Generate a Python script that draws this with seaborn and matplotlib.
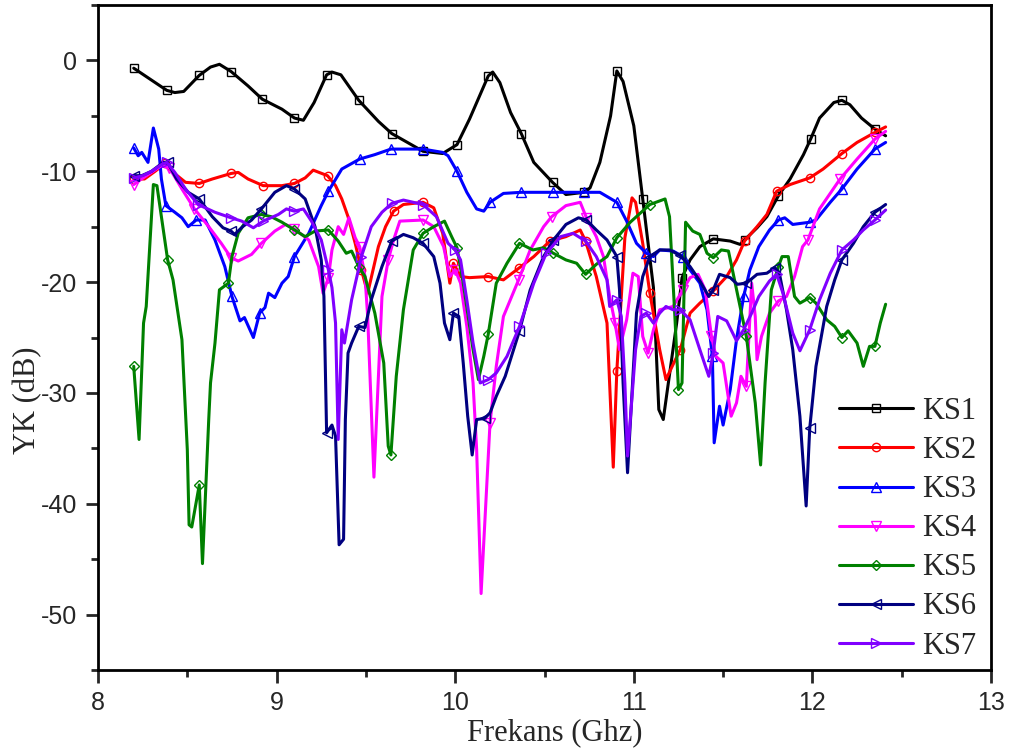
import numpy as np
import matplotlib
matplotlib.use("Agg")
import matplotlib.pyplot as plt
import seaborn as sns
from matplotlib.ticker import MultipleLocator

# ---------------- data ----------------
ks1_x = [8.20, 8.385, 8.43, 8.48, 8.567, 8.63, 8.68, 8.745, 8.84, 8.92, 9.03, 9.10, 9.15, 9.21, 9.28, 9.31, 9.36,
         9.46, 9.57, 9.645, 9.82, 9.93, 10.01, 10.08, 10.185, 10.21, 10.25, 10.31, 10.37, 10.44, 10.545, 10.62,
         10.72, 10.755, 10.81, 10.87, 10.905, 10.94, 11.00, 11.05, 11.11, 11.14, 11.165, 11.24, 11.27, 11.315,
         11.37, 11.445, 11.54, 11.595, 11.62, 11.69, 11.745, 11.81, 11.875, 11.95, 11.99, 12.04, 12.12, 12.165,
         12.21, 12.275, 12.35, 12.41]
ks1_y = [-0.7, -2.7, -2.9, -2.8, -1.35, -0.6, -0.35, -1.0, -2.3, -3.5, -4.4, -5.2, -5.4, -3.8, -1.3, -1.05, -1.3,
         -3.6, -5.5, -6.6, -8.2, -8.4, -7.6, -5.3, -1.4, -1.05, -2.0, -4.7, -6.6, -9.2, -11.0, -12.1,
         -11.9, -11.5, -9.2, -5.0, -0.95, -1.9, -5.9, -12.5, -20.5, -31.5, -32.4, -23.7, -19.6, -18.0,
         -16.8, -16.1, -16.3, -16.6, -16.2, -15.1, -14.1, -12.2, -10.7, -8.5, -7.1, -5.2, -3.8, -3.6,
         -4.0, -5.2, -6.2, -6.8]

ks2_x = [8.20, 8.26, 8.32, 8.375, 8.39, 8.49, 8.567, 8.64, 8.745, 8.785, 8.84, 8.925, 9.03, 9.10, 9.16, 9.205,
         9.285, 9.33, 9.365, 9.40, 9.44, 9.475, 9.51, 9.57, 9.61, 9.655, 9.71, 9.82, 9.88, 9.93, 9.97, 9.99,
         10.03, 10.08, 10.185, 10.27, 10.36, 10.44, 10.53, 10.62, 10.70, 10.73, 10.79, 10.85, 10.885, 10.905,
         10.95, 10.99, 11.01, 11.05, 11.09, 11.145, 11.18, 11.215, 11.26, 11.315, 11.37, 11.445, 11.52, 11.575,
         11.62, 11.69, 11.745, 11.80, 11.875, 11.985, 12.06, 12.165, 12.25, 12.35, 12.41]
ks2_y = [-10.7, -10.7, -10.0, -9.3, -9.7, -11.0, -11.1, -10.7, -10.2, -10.1, -10.7, -11.3, -11.3, -11.1, -10.6, -9.9,
         -10.4, -11.3, -12.5, -14.1, -16.5, -18.9, -21.0, -16.8, -15.0, -13.6, -13.0, -12.8, -13.3, -15.6, -20.1, -18.3,
         -19.5, -19.6, -19.5, -19.8, -18.7, -17.7, -16.3, -15.9, -15.3, -16.3, -19.5, -23.7, -36.7, -28.0,
         -16.0, -12.4, -12.8, -16.5, -21.0, -26.1, -28.8, -27.6, -26.1, -22.8, -21.9, -20.8, -19.5, -18.0,
         -16.3, -15.0, -13.9, -11.8, -11.2, -10.6, -9.8, -8.4, -7.4, -6.5, -6.0]

ks3_x = [8.20, 8.225, 8.245, 8.28, 8.31, 8.34, 8.355, 8.38, 8.43, 8.47, 8.505, 8.55, 8.60, 8.655, 8.71, 8.75,
         8.795, 8.82, 8.87, 8.905, 8.935, 8.955, 8.99, 9.03, 9.065, 9.10, 9.18, 9.25, 9.29, 9.365, 9.465, 9.55,
         9.64, 9.82, 9.93, 9.96, 10.01, 10.065, 10.12, 10.16, 10.195, 10.27, 10.37, 10.545, 10.72, 10.81, 10.905,
         10.96, 11.015, 11.07, 11.11, 11.145, 11.22, 11.275, 11.315, 11.37, 11.41, 11.44, 11.45, 11.48, 11.50,
         11.54, 11.575, 11.615, 11.65, 11.70, 11.76, 11.81, 11.845, 11.89, 11.985, 12.02, 12.10, 12.165, 12.25,
         12.35, 12.41]
ks3_y = [-7.9, -8.6, -8.3, -9.2, -6.1, -8.0, -10.7, -13.1, -13.7, -14.2, -15.0, -14.4, -14.4, -16.2, -18.6, -21.3,
         -23.5, -23.2, -25.0, -22.8, -22.3, -21.0, -21.4, -20.1, -19.5, -17.7, -15.6, -13.1, -11.8, -9.8, -8.9, -8.5,
         -8.0, -8.0, -8.3, -8.6, -10.0, -11.9, -13.4, -13.6, -12.8, -12.0, -11.9, -11.9, -11.9, -11.9, -12.8,
         -14.5, -16.5, -17.4, -17.7, -17.1, -17.2, -17.7, -18.9, -20.1, -22.5, -26.7, -34.5, -31.2, -32.9,
         -29.7, -25.2, -21.3, -18.9, -16.8, -15.3, -14.4, -14.2, -14.8, -14.6, -14.4, -12.8, -11.6, -9.8,
         -8.0, -7.4]

ks4_x = [8.20, 8.225, 8.28, 8.355, 8.40, 8.47, 8.54, 8.62, 8.69, 8.745, 8.785, 8.86, 8.915, 8.99, 9.05, 9.10,
         9.18, 9.235, 9.26, 9.29, 9.31, 9.345, 9.375, 9.405, 9.44, 9.465, 9.495, 9.51, 9.545, 9.59, 9.625, 9.655,
         9.69, 9.82, 9.88, 9.935, 9.97, 10.0, 10.03, 10.065, 10.10, 10.12, 10.145, 10.195, 10.23, 10.27, 10.355,
         10.42, 10.495, 10.54, 10.62, 10.70, 10.735, 10.79, 10.83, 10.865, 10.895, 10.92, 10.96, 10.995, 11.025,
         11.05, 11.08, 11.11, 11.145, 11.22, 11.275, 11.315, 11.36, 11.40, 11.435, 11.46, 11.50, 11.545, 11.575,
         11.60, 11.63, 11.66, 11.68, 11.69, 11.715, 11.76, 11.81, 11.855, 11.90, 11.945, 11.975, 12.04, 12.155,
         12.25, 12.35, 12.41]
ks4_y = [-11.2, -10.9, -10.3, -9.5, -9.7, -11.6, -13.4, -15.0, -16.5, -17.8, -18.1, -17.5, -16.5, -15.4, -14.8, -15.2,
         -16.2, -18.6, -21.0, -19.6, -17.1, -15.0, -15.7, -14.2, -16.0, -16.8, -19.5, -23.1, -37.6, -21.3, -18.0, -16.2,
         -14.5, -14.4, -15.0, -16.8, -19.5, -18.9, -20.1, -24.0, -29.1, -35.1, -48.1, -32.7, -27.6, -23.1, -19.8,
         -17.1, -15.0, -14.1, -13.1, -12.8, -14.2, -15.9, -17.7, -21.3, -23.7, -26.1, -23.4, -19.2, -19.5,
         -24.9, -26.4, -24.3, -22.5, -22.2, -20.7, -19.6, -19.3, -20.7, -24.9, -26.7, -27.3, -32.1, -30.9,
         -28.5, -29.4, -20.1, -23.1, -27.0, -24.9, -22.8, -21.7, -21.3, -19.5, -16.8, -16.2, -13.4, -10.7,
         -8.9, -7.1, -6.4]

ks5_x = [8.20, 8.23, 8.255, 8.27, 8.31, 8.33, 8.355, 8.39, 8.42, 8.47, 8.50, 8.51, 8.525, 8.567, 8.585, 8.62,
         8.63, 8.655, 8.68, 8.73, 8.75, 8.785, 8.84, 8.915, 8.97, 9.03, 9.10, 9.16, 9.215, 9.29, 9.345, 9.39,
         9.42, 9.46, 9.495, 9.55, 9.60, 9.625, 9.64, 9.67, 9.71, 9.765, 9.82, 9.88, 9.94, 9.98, 10.01, 10.045,
         10.10, 10.13, 10.16, 10.185, 10.23, 10.29, 10.36, 10.435, 10.495, 10.55, 10.62, 10.68, 10.73, 10.79,
         10.85, 10.905, 10.98, 11.09, 11.175, 11.20, 11.23, 11.25, 11.27, 11.29, 11.33, 11.37, 11.41, 11.445,
         11.49, 11.53, 11.56, 11.63, 11.68, 11.71, 11.735, 11.77, 11.81, 11.83, 11.865, 11.90, 11.93, 11.985,
         12.02, 12.08, 12.125, 12.165, 12.20, 12.25, 12.285, 12.32, 12.35, 12.38, 12.41]
ks5_y = [-27.6, -34.2, -23.7, -22.2, -11.2, -11.3, -14.1, -18.0, -19.8, -25.2, -35.1, -41.9, -42.1, -38.3, -45.4, -32.4,
         -29.1, -25.5, -20.7, -20.1, -17.7, -15.6, -14.2, -13.9, -14.1, -14.6, -15.3, -15.9, -15.4, -15.3, -16.3, -17.4,
         -17.2, -18.6, -19.5, -22.8, -27.3, -34.8, -35.6, -28.5, -22.5, -17.1, -15.6, -15.0, -14.5, -15.9, -16.9, -20.1,
         -26.1, -28.8, -26.7, -24.7, -20.1, -18.3, -16.5, -17.1, -16.9, -17.4, -18.0, -18.3, -19.3, -18.4,
         -17.7, -16.0, -14.6, -13.0, -12.5, -14.1, -23.1, -29.7, -29.1, -14.6, -15.4, -15.7, -17.4, -17.8,
         -17.1, -17.2, -19.5, -24.9, -30.9, -36.5, -29.1, -20.7, -18.6, -17.7, -17.7, -21.3, -21.9, -21.4,
         -21.9, -23.4, -24.0, -25.0, -24.4, -25.5, -27.6, -25.8, -25.8, -23.7, -22.0]

ks6_x = [8.20, 8.245, 8.30, 8.365, 8.39, 8.44, 8.505, 8.567, 8.64, 8.70, 8.745, 8.765, 8.81, 8.86, 8.915, 8.99,
         9.055, 9.10, 9.16, 9.215, 9.25, 9.265, 9.28, 9.31, 9.33, 9.35, 9.375, 9.385, 9.40, 9.42, 9.46, 9.495,
         9.53, 9.59, 9.645, 9.71, 9.765, 9.82, 9.88, 9.915, 9.94, 9.97, 9.99, 10.02, 10.045, 10.07, 10.095,
         10.12, 10.165, 10.195, 10.23, 10.28, 10.36, 10.42, 10.495, 10.55, 10.62, 10.69, 10.735, 10.79, 10.85,
         10.905, 10.92, 10.94, 10.965, 11.015, 11.05, 11.09, 11.145, 11.20, 11.26, 11.315, 11.37, 11.42, 11.445,
         11.48, 11.54, 11.58, 11.63, 11.69, 11.745, 11.79, 11.815, 11.855, 11.89, 11.93, 11.965, 11.985, 12.02,
         12.08, 12.125, 12.165, 12.23, 12.285, 12.35, 12.41]
ks6_y = [-10.4, -10.4, -10.0, -9.2, -9.2, -10.7, -11.9, -12.5, -14.1, -15.1, -15.4, -15.7, -15.0, -14.4, -13.4, -11.9,
         -11.3, -11.6, -12.5, -15.0, -18.0, -21.3, -33.6, -32.9, -33.9, -43.7, -43.2, -32.4, -26.4, -25.5, -24.0, -24.1,
         -21.6, -18.6, -16.3, -15.7, -16.0, -16.5, -17.7, -20.1, -23.7, -25.2, -22.8, -23.1, -27.3, -32.1, -35.6,
         -32.4, -32.3, -31.8, -30.3, -28.5, -24.4, -20.7, -17.7, -16.2, -14.8, -14.2, -14.4, -15.3, -16.2,
         -17.7, -20.7, -29.1, -37.2, -22.8, -19.5, -17.7, -17.1, -17.1, -17.6, -18.6, -19.9, -21.3, -20.7,
         -19.3, -19.6, -20.2, -20.1, -19.3, -19.2, -18.7, -19.2, -22.5, -26.1, -32.1, -40.2, -33.2, -27.6,
         -22.2, -19.8, -18.0, -16.5, -15.0, -13.7, -13.0]

ks7_x = [8.20, 8.25, 8.30, 8.355, 8.385, 8.43, 8.49, 8.56, 8.655, 8.745, 8.805, 8.87, 8.925, 9.01, 9.055, 9.10,
         9.15, 9.195, 9.25, 9.29, 9.31, 9.33, 9.345, 9.365, 9.38, 9.42, 9.475, 9.53, 9.59, 9.645, 9.71, 9.82,
         9.895, 9.96, 10.0, 10.03, 10.065, 10.10, 10.14, 10.185, 10.23, 10.29, 10.36, 10.44, 10.51, 10.59, 10.66,
         10.73, 10.79, 10.85, 10.865, 10.905, 10.93, 10.95, 10.965, 11.01, 11.04, 11.07, 11.11, 11.145, 11.18,
         11.22, 11.26, 11.315, 11.37, 11.42, 11.445, 11.47, 11.52, 11.575, 11.615, 11.66, 11.70, 11.76, 11.80,
         11.835, 11.89, 11.93, 11.985, 12.04, 12.10, 12.165, 12.23, 12.285, 12.35, 12.41]
ks7_y = [-10.6, -10.4, -10.0, -9.4, -9.2, -10.1, -11.6, -13.0, -13.7, -14.2, -14.5, -15.1, -14.5, -13.9, -13.4, -13.6,
         -13.4, -14.5, -16.2, -18.9, -20.5, -23.7, -34.2, -24.3, -25.5, -21.6, -17.7, -15.0, -13.7, -12.9, -12.6, -13.0,
         -14.1, -16.5, -17.1, -18.0, -21.6, -25.5, -29.1, -28.8, -28.2, -26.7, -24.0, -20.1, -17.4, -15.9, -15.6,
         -16.3, -17.7, -19.8, -22.2, -21.6, -23.1, -29.1, -35.7, -26.1, -23.1, -22.8, -23.7, -22.8, -22.2,
         -22.5, -22.5, -23.4, -26.1, -28.5, -26.4, -23.1, -23.5, -25.3, -24.3, -22.8, -21.3, -19.9, -19.3,
         -21.0, -24.6, -26.2, -24.3, -21.6, -19.2, -17.1, -16.2, -15.3, -14.4, -13.5]

labels = ["KS1", "KS2", "KS3", "KS4", "KS5", "KS6", "KS7"]
xs = [ks1_x, ks2_x, ks3_x, ks4_x, ks5_x, ks6_x, ks7_x]
ys = [ks1_y, ks2_y, ks3_y, ks4_y, ks5_y, ks6_y, ks7_y]

# ---------------- style ----------------
colors = ["#000000", "#FF0000", "#0000FF", "#FF00FF", "#008000", "#000080", "#8000FF"]
markers = ["s", "o", "^", "v", "D", "<", ">"]
marker_sizes = [6, 6, 7, 7, 5.5, 7, 7]

sns.set_style("ticks")
plt.rcParams["font.family"] = ["Liberation Sans", "DejaVu Sans"]
plt.rcParams["axes.unicode_minus"] = False

fig = plt.figure(figsize=(10.12, 7.56), dpi=100)
ax = fig.add_axes([98 / 1012, 1 - 670 / 756, (991 - 98) / 1012, (670 - 5) / 756])

marker_step = 0.18
for lab, x, y, c, m, ms in zip(labels, xs, ys, colors, markers, marker_sizes):
    xa = np.asarray(x)
    grid = np.arange(xa[0], xa[-1] + 1e-6, marker_step)
    idx = sorted(set(int(np.argmin(np.abs(xa - g))) for g in grid))
    sns.lineplot(x=x, y=y, ax=ax, color=c, linewidth=2.2, marker=m, markersize=ms,
                 markerfacecolor="none", mec=c, mew=1.0, markevery=idx,
                 label=lab, estimator=None, sort=False)

ax.set_xlim(8, 13)
ax.set_ylim(-55, 5)
ax.xaxis.set_major_locator(MultipleLocator(1))
ax.xaxis.set_minor_locator(MultipleLocator(0.5))
ax.yaxis.set_major_locator(MultipleLocator(10))
ax.yaxis.set_minor_locator(MultipleLocator(5))
ax.tick_params(axis="both", which="major", direction="out", length=9, width=2, labelsize=18,
               top=False, right=False, pad=6)
ax.tick_params(axis="both", which="minor", direction="out", length=5, width=2, top=False, right=False)
for sp in ax.spines.values():
    sp.set_visible(True)
    sp.set_linewidth(2)
    sp.set_color("black")

serif = {"family": ["Liberation Serif", "DejaVu Serif"], "size": 22}
ax.set_xlabel("Frekans (Ghz)", fontdict=serif)
ax.set_ylabel("YK (dB)", fontdict=serif)
ax.xaxis.set_label_coords(0.511, -0.072)
ax.yaxis.set_label_coords(-0.062, 0.406)

leg = ax.legend(loc="lower right", frameon=False,
                prop={"family": ["Liberation Serif", "DejaVu Serif"], "size": 22},
                handlelength=2.4, handletextpad=0.3, labelspacing=0.33,
                borderaxespad=0.3, bbox_to_anchor=(1.007, -0.018))

fig.savefig("out.png", dpi=100)
